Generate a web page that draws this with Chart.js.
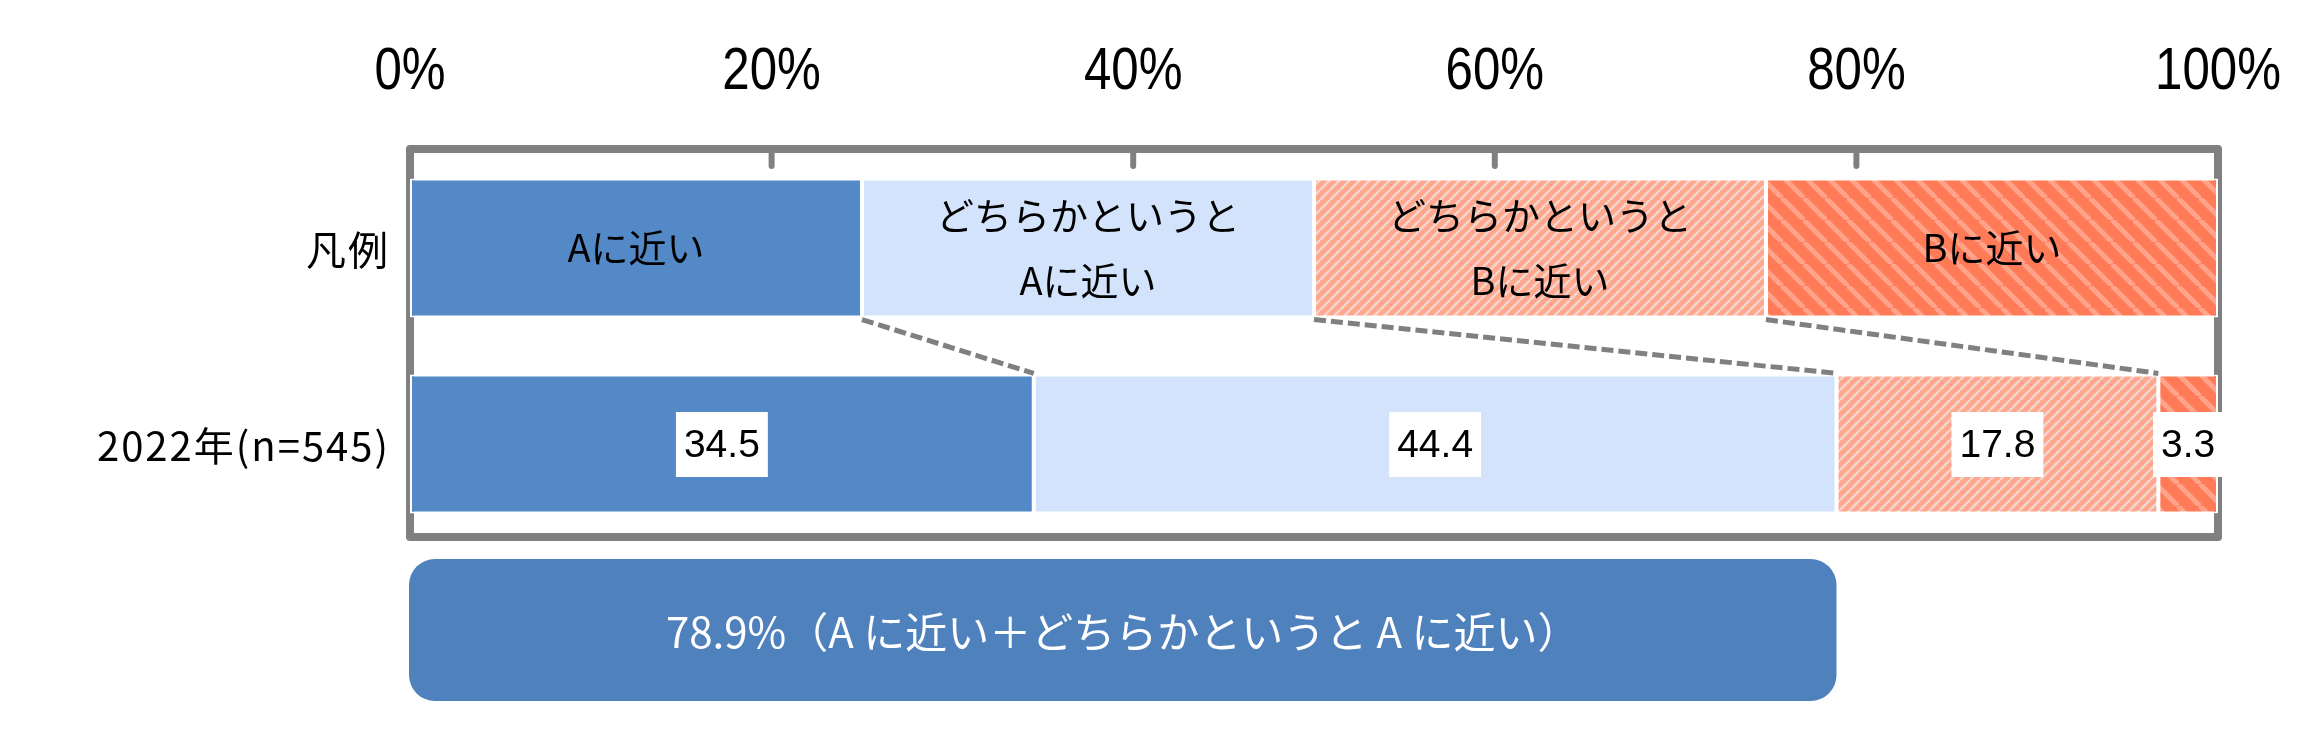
<!DOCTYPE html>
<html>
<head>
<meta charset="utf-8">
<script src="https://cdn.jsdelivr.net/npm/chart.js@4"></script>
<style>
  html, body { margin: 0; padding: 0; background: #fff; }
</style>
</head>
<body>
<canvas id="chart" width="2320" height="731"></canvas>
<script>
// --- data ---
const categories = ["凡例", "2022年(n=545)"];
const seriesNames = [["Aに近い"], ["どちらかというと", "Aに近い"], ["どちらかというと", "Bに近い"], ["Bに近い"]];
const legendShares = [25, 25, 25, 25];
const values2022 = [34.5, 44.4, 17.8, 3.3];
const xTicks = [0, 20, 40, 60, 80, 100];

const JP = '"Noto Sans CJK JP", "Noto Sans", sans-serif';
const GRAY = "#808080";

// diagonal stripe fills
function stripes(base, stripe, size, width, slash) {
  const c = document.createElement("canvas");
  c.width = size; c.height = size;
  const g = c.getContext("2d");
  g.fillStyle = base;
  g.fillRect(0, 0, size, size);
  g.strokeStyle = stripe;
  g.lineWidth = width;
  g.beginPath();
  for (let k = -1; k <= 1; k++) {
    if (slash) { g.moveTo(k * size, size); g.lineTo(k * size + size, 0); }
    else { g.moveTo(k * size, 0); g.lineTo(k * size + size, size); }
  }
  g.stroke();
  return g.createPattern(c, "repeat");
}

const fills = [
  "#5389C7",
  "#D3E3FC",
  stripes("#FFA68D", "#F2D6CE", 10, 2.6, true),
  stripes("#FF7A57", "#FFA48B", 22, 5, false)
];

// frame, inward tick marks and axis texts (condensed), behind the bars
const framePlugin = {
  id: "frame",
  beforeDatasetsDraw(chart) {
    const { ctx, chartArea: a, scales: { x, y } } = chart;
    const top = a.top - 1, bottom = a.bottom - 5;
    const left = x.getPixelForValue(0), right = x.getPixelForValue(100);
    ctx.save();
    ctx.strokeStyle = GRAY;
    ctx.lineWidth = 8;
    ctx.lineJoin = "round";
    ctx.strokeRect(left, top, right - left, bottom - top);
    ctx.lineWidth = 6;
    ctx.lineCap = "round";
    xTicks.slice(1, -1).forEach(t => {
      const px = x.getPixelForValue(t);
      ctx.beginPath();
      ctx.moveTo(px, top);
      ctx.lineTo(px, top + 17);
      ctx.stroke();
    });

    // x tick labels, narrow like the original
    ctx.fillStyle = "#000";
    ctx.textAlign = "center";
    ctx.textBaseline = "middle";
    ctx.font = '60px "Liberation Sans", Arial, sans-serif';
    xTicks.forEach(t => {
      ctx.save();
      ctx.translate(x.getPixelForValue(t), 72);
      ctx.scale(0.82, 1);
      ctx.fillText(t + "%", 0, 0);
      ctx.restore();
    });

    // category labels
    ctx.textAlign = "right";
    ctx.font = "40px " + JP;
    ctx.letterSpacing = "2px";
    categories.forEach((c, i) => {
      ctx.fillText(c, left - 20, y.getPixelForValue(i) + 2);
    });
    ctx.restore();
  }
};

// connectors, legend texts, value boxes
const labelPlugin = {
  id: "labels",
  afterDatasetsDraw(chart) {
    const ctx = chart.ctx;
    ctx.save();
    chart.data.datasets.forEach((ds, i) => {
      const meta = chart.getDatasetMeta(i);
      const e0 = meta.data[0].getProps(["x", "y", "base", "height"], true);
      const e1 = meta.data[1].getProps(["x", "y", "base", "height"], true);

      if (i < chart.data.datasets.length - 1) {
        ctx.strokeStyle = GRAY;
        ctx.lineWidth = 5;
        ctx.setLineDash([12, 5]);
        ctx.beginPath();
        ctx.moveTo(e0.x, e0.y + e0.height / 2 + 2);
        ctx.lineTo(e1.x, e1.y - e1.height / 2 - 1);
        ctx.stroke();
        ctx.setLineDash([]);
      }

      // legend row text
      const lines = seriesNames[i];
      ctx.fillStyle = "#000";
      ctx.font = "38px " + JP;
      ctx.textAlign = "center";
      ctx.textBaseline = "middle";
      const lh = 65;
      lines.forEach((t, k) => {
        ctx.fillText(t, (e0.x + e0.base) / 2, e0.y + (k - (lines.length - 1) / 2) * lh);
      });

      // value box
      const txt = values2022[i].toFixed(1);
      ctx.font = '39px "Liberation Sans", Arial, sans-serif';
      const w = ctx.measureText(txt).width + 16;
      const cx = (e1.x + e1.base) / 2;
      ctx.fillStyle = "#fff";
      ctx.fillRect(cx - w / 2, e1.y - 32, w, 65);
      ctx.fillStyle = "#000";
      ctx.fillText(txt, cx, e1.y + 2);
    });
    ctx.restore();
  },
  afterDraw(chart) {
    const { ctx, scales: { x } } = chart;
    const sum = values2022[0] + values2022[1];
    const x0 = x.getPixelForValue(0) - 1, x1 = x.getPixelForValue(sum);
    const y0 = 559, y1 = 701;
    ctx.save();
    ctx.fillStyle = "#4F81BD";
    ctx.beginPath();
    ctx.roundRect(x0, y0, x1 - x0, y1 - y0, 26);
    ctx.fill();
    ctx.fillStyle = "#fff";
    ctx.font = "42px " + JP;
    ctx.textAlign = "center";
    ctx.textBaseline = "middle";
    ctx.fillText(sum.toFixed(1) + "%（A に近い＋どちらかというと A に近い）", (x0 + x1) / 2, (y0 + y1) / 2 + 2);
    ctx.restore();
  }
};

new Chart(document.getElementById("chart"), {
  type: "bar",
  data: {
    labels: categories,
    datasets: seriesNames.map((n, i) => ({
      label: n.join(""),
      data: [legendShares[i], values2022[i]],
      backgroundColor: fills[i],
      borderColor: "#fff",
      borderWidth: 2,
      borderSkipped: false,
      barPercentage: 0.71,
      categoryPercentage: 1
    }))
  },
  options: {
    indexAxis: "y",
    responsive: false,
    devicePixelRatio: 1,
    animation: false,
    layout: { padding: { top: 0, left: 0, right: 102, bottom: 189 } },
    plugins: { legend: { display: false }, tooltip: { enabled: false } },
    scales: {
      x: {
        stacked: true,
        position: "top",
        min: 0,
        max: 100,
        afterBuildTicks: s => { s.ticks = xTicks.map(v => ({ value: v })); },
        afterFit: s => { s.height = 150; s.paddingLeft = 0; s.paddingRight = 0; },
        grid: { display: false },
        border: { display: false },
        ticks: { display: false }
      },
      y: {
        stacked: true,
        afterFit: s => { s.width = 410; s.paddingTop = 0; s.paddingBottom = 0; },
        grid: { display: false },
        border: { display: false },
        ticks: { display: false }
      }
    }
  },
  plugins: [framePlugin, labelPlugin]
});
</script>
</body>
</html>
